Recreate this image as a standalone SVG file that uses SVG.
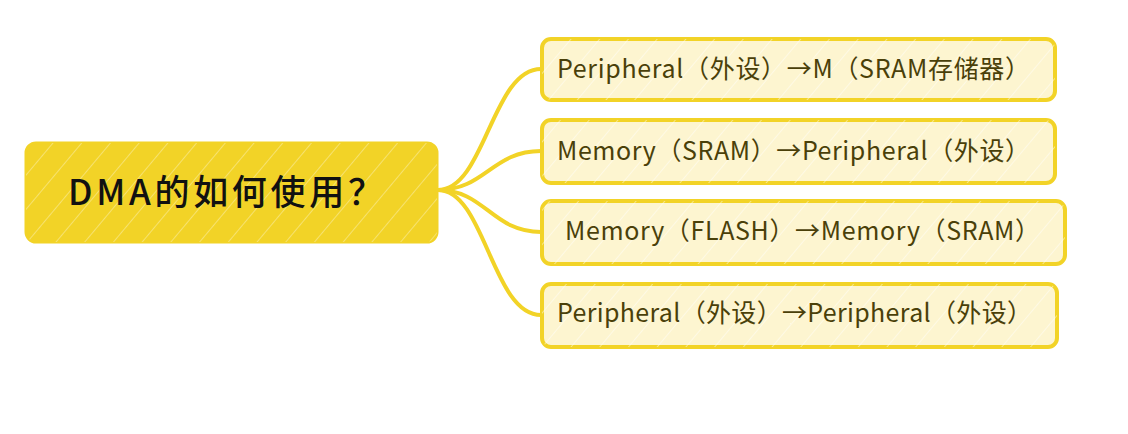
<svg xmlns="http://www.w3.org/2000/svg" width="1128" height="434" viewBox="0 0 1128 434">
<style>
.root-box{fill:#F2D327;stroke:#F2D327;stroke-width:3}
.child-box{fill:#FDF5D0;stroke:#F2D327;stroke-width:4}
.hatch{fill:url(#hatch)}
.hatch-light{fill:url(#hatchLight)}
.root-text{font-family:"Noto Sans CJK SC","Noto Sans",sans-serif;font-size:35px;font-weight:500;fill:#111}
.child-text{font-family:"Noto Sans CJK SC","Noto Sans",sans-serif;font-size:25px;fill:#4A4009}
.conn{fill:none;stroke:#F2D327;stroke-width:4;stroke-linecap:round}
</style>
<defs>
<pattern id="hatch" width="22" height="22" patternUnits="userSpaceOnUse" patternTransform="rotate(40)">
<line x1="0" y1="0" x2="0" y2="22" stroke="#fff" stroke-width="1.5" opacity="0.45"/>
</pattern>
<pattern id="hatchLight" width="22" height="22" patternUnits="userSpaceOnUse" patternTransform="rotate(40)">
<line x1="0" y1="0" x2="0" y2="22" stroke="#fff" stroke-width="1.5" opacity="0.6"/>
</pattern>
</defs>
<rect width="1128" height="434" fill="#fff"/>
<g id="connectors">
<path class="conn" d="M438,190 C485,190 492,69 541,69"/>
<path class="conn" d="M438,190 C485,190 492,151 541,151"/>
<path class="conn" d="M438,190 C485,190 492,232 541,232"/>
<path class="conn" d="M438,190 C485,190 492,315 541,315"/>
</g>
<g id="root">
<rect class="root-box" x="26" y="143" width="411" height="99" rx="10"/>
<rect class="hatch" x="26" y="143" width="411" height="99" rx="10"/>
<text class="root-text" x="68" y="205" textLength="315" lengthAdjust="spacing">DMA的如何使用？</text>
</g>
<g id="n1">
<rect class="child-box" x="542" y="39" width="513" height="61" rx="9"/>
<rect class="hatch-light" x="542" y="39" width="513" height="61" rx="9"/>
<text class="child-text" x="557" y="78" textLength="473" lengthAdjust="spacing">Peripheral（外设）→M（SRAM存储器）</text>
</g>
<g id="n2">
<rect class="child-box" x="542" y="120" width="513" height="63" rx="9"/>
<rect class="hatch-light" x="542" y="120" width="513" height="63" rx="9"/>
<text class="child-text" x="557" y="160" textLength="473" lengthAdjust="spacing">Memory（SRAM）→Peripheral（外设）</text>
</g>
<g id="n3">
<rect class="child-box" x="542" y="201" width="523" height="63" rx="9"/>
<rect class="hatch-light" x="542" y="201" width="523" height="63" rx="9"/>
<text class="child-text" x="565" y="240" textLength="475" lengthAdjust="spacing">Memory（FLASH）→Memory（SRAM）</text>
</g>
<g id="n4">
<rect class="child-box" x="542" y="284" width="515" height="63" rx="9"/>
<rect class="hatch-light" x="542" y="284" width="515" height="63" rx="9"/>
<text class="child-text" x="557" y="322" textLength="475" lengthAdjust="spacing">Peripheral（外设）→Peripheral（外设）</text>
</g>
</svg>
